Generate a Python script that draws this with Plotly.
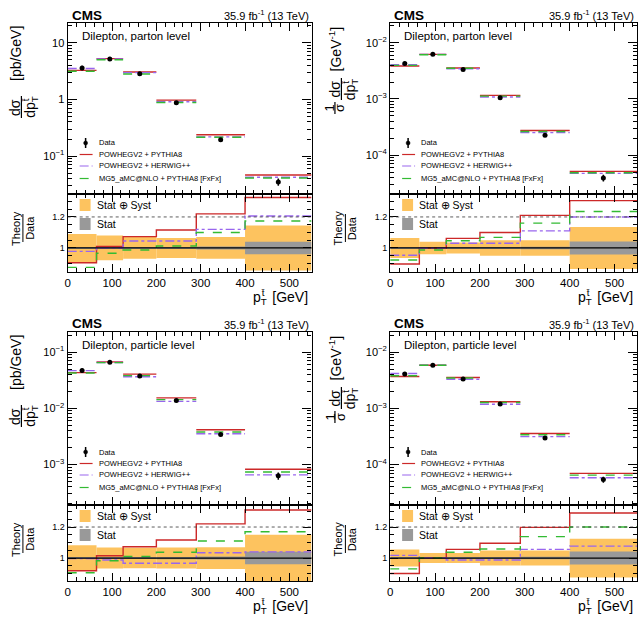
import plotly.graph_objects as go

W, H = 642, 617
FONT = "Liberation Sans, Arial, Helvetica, sans-serif"

# ---------------- data ----------------
bin_edges = [0, 65, 125, 200, 290, 400, 550]

# top-left: parton level, absolute [pb/GeV]
tl_data = [3.6, 5.2, 2.85, 0.87, 0.195, 0.035]
tl_p8 = [0.905, 1.01, 1.073, 1.116, 1.22, 1.325]
tl_hw = [0.978, 1.0, 1.045, 1.045, 1.12, 1.206]
tl_mg = [0.875, 0.966, 0.987, 1.013, 1.10, 1.174]
tl_tot = [0.09, 0.08, 0.07, 0.065, 0.07, 0.145]
tl_stat = [0.006, 0.005, 0.006, 0.007, 0.01, 0.04]

# top-right: parton level, normalised [1/GeV]
tr_data = [4.28e-3, 6.2e-3, 3.35e-3, 1.05e-3, 2.27e-4, 3.95e-5]
tr_p8 = [0.897, 1.0, 1.062, 1.10, 1.21, 1.305]
tr_hw = [0.953, 1.0, 1.03, 1.03, 1.11, 1.20]
tr_mg = [0.922, 0.987, 1.047, 1.068, 1.16, 1.235]
tr_tot = [0.065, 0.04, 0.035, 0.05, 0.05, 0.135]
tr_stat = [0.005, 0.004, 0.004, 0.005, 0.008, 0.042]

# bottom-left: particle level, absolute [pb/GeV]
bl_data = [0.0472, 0.0664, 0.0379, 0.0138, 3.42e-3, 6.3e-4]
bl_p8 = [0.918, 1.015, 1.073, 1.116, 1.22, 1.31]
bl_hw = [0.996, 0.987, 0.966, 0.966, 1.034, 1.04]
bl_mg = [0.905, 0.983, 1.01, 1.037, 1.11, 1.17]
bl_tot = [0.083, 0.068, 0.066, 0.068, 0.07, 0.15]
bl_stat = [0.006, 0.005, 0.006, 0.007, 0.01, 0.04]

# bottom-right: particle level, normalised [1/GeV]
br_data = [4.11e-3, 5.87e-3, 3.35e-3, 1.2e-3, 2.98e-4, 5.4e-5]
br_p8 = [0.90, 1.0, 1.056, 1.095, 1.198, 1.29]
br_hw = [1.017, 1.0, 0.987, 0.987, 1.056, 1.077]
br_mg = [0.93, 1.0, 1.037, 1.058, 1.138, 1.20]
br_tot = [0.055, 0.032, 0.032, 0.048, 0.048, 0.125]
br_stat = [0.005, 0.004, 0.004, 0.005, 0.008, 0.042]

tl_ytickvals = [0.1, 1, 10]
tl_yticktext = ["10<sup>\u22121</sup>", "1", "10"]
tr_ytickvals = [1e-4, 1e-3, 1e-2]
tr_yticktext = ["10<sup>\u22124</sup>", "10<sup>\u22123</sup>", "10<sup>\u22122</sup>"]
bl_ytickvals = [1e-3, 1e-2, 1e-1]
bl_yticktext = ["10<sup>\u22123</sup>", "10<sup>\u22122</sup>", "10<sup>\u22121</sup>"]
br_ytickvals = tr_ytickvals
br_yticktext = tr_yticktext

x_ticks = [0, 100, 200, 300, 400, 500]
ratio_ticks = [1, 1.2]
ratio_ticktext = ["1", "1.2"]

model_names = ["POWHEGV2 + PYTHIA8", "POWHEGV2 + HERWIG++", "MG5_aMC@NLO + PYTHIA8 [FxFx]"]
model_colors = ["#cc2929", "#9966ee", "#33bb33"]
model_dash = ["solid", "dashdot", "dash"]
band_tot_color = "#fdc35f"
band_stat_color = "#999999"

PT_TBAR = "p<sub><span style=\"letter-spacing:-5px\">T</span></sub><sup>t\u0304</sup>"

# ---------------- layout geometry (pixels) ----------------
cols = {0: (65, 310), 1: (389, 637)}
rows = {0: dict(main=(23, 194), ratio=(194, 272)), 1: dict(main=(332, 505), ratio=(505, 581))}


def px(x):
    return x / W


def py(y):
    return 1 - y / H


panels = [
    dict(data=tl_data, models=[tl_p8, tl_hw, tl_mg], tot=tl_tot, stat=tl_stat, col=0, row=0,
         label="Dilepton, parton level", norm=False, yrange=[-1.67, 1.35], tv=tl_ytickvals, tt=tl_yticktext,
         rrange=[0.845, 1.348]),
    dict(data=tr_data, models=[tr_p8, tr_hw, tr_mg], tot=tr_tot, stat=tr_stat, col=1, row=0,
         label="Dilepton, parton level", norm=True, yrange=[-4.69, -1.65], tv=tr_ytickvals, tt=tr_yticktext,
         rrange=[0.845, 1.348]),
    dict(data=bl_data, models=[bl_p8, bl_hw, bl_mg], tot=bl_tot, stat=bl_stat, col=0, row=1,
         label="Dilepton, particle level", norm=False, yrange=[-3.72, -0.64], tv=bl_ytickvals, tt=bl_yticktext,
         rrange=[0.852, 1.342]),
    dict(data=br_data, models=[br_p8, br_hw, br_mg], tot=br_tot, stat=br_stat, col=1, row=1,
         label="Dilepton, particle level", norm=True, yrange=[-4.72, -1.64], tv=br_ytickvals, tt=br_yticktext,
         rrange=[0.852, 1.342]),
]

centers = [(a + b) / 2 for a, b in zip(bin_edges[:-1], bin_edges[1:])]
widths = [b - a for a, b in zip(bin_edges[:-1], bin_edges[1:])]

fig = go.Figure()
annotations = []
shapes = []
layout = {}


def minor_log(lo, hi):
    vals = []
    for e in range(int(lo) - 1, int(hi) + 2):
        for m in range(2, 10):
            vals.append(m * 10 ** e)
    return vals


def ann(text, x, y, size, xanchor="center", yanchor="middle", angle=0, bold=False, color="black"):
    if bold:
        text = "<b>" + text + "</b>"
    annotations.append(dict(text=text, x=px(x), y=py(y), xref="paper", yref="paper", showarrow=False,
                            xanchor=xanchor, yanchor=yanchor, textangle=angle,
                            font=dict(family=FONT, size=size, color=color)))


def pline(x0, y0, x1, y1, color="black", width=1, dash="solid"):
    shapes.append(dict(type="line", xref="paper", yref="paper", x0=px(x0), y0=py(y0), x1=px(x1), y1=py(y1),
                       line=dict(color=color, width=width, dash=dash)))


axis_common = dict(showline=True, linecolor="black", linewidth=1.4, mirror="allticks", ticks="inside",
                   tickcolor="black", tickwidth=1, showgrid=False, zeroline=False)

for k, p in enumerate(panels):
    x0, x1 = cols[p["col"]]
    ym0, ym1 = rows[p["row"]]["main"]
    yr0, yr1 = rows[p["row"]]["ratio"]
    im, ir = 2 * k + 1, 2 * k + 2
    xm = "x" if im == 1 else f"x{im}"
    ym = "y" if im == 1 else f"y{im}"
    xr, yr = f"x{ir}", f"y{ir}"
    xmn = "xaxis" if im == 1 else f"xaxis{im}"
    ymn = "yaxis" if im == 1 else f"yaxis{im}"

    layout[xmn] = dict(axis_common, domain=[px(x0), px(x1)], anchor=ym, range=[0, 550], tickvals=x_ticks,
                       showticklabels=False, ticklen=8,
                       minor=dict(dtick=20, tick0=0, ticks="inside", ticklen=4, tickcolor="black", showgrid=False))
    layout[ymn] = dict(axis_common, domain=[py(ym1), py(ym0)], anchor=xm, type="log", range=p["yrange"],
                       tickvals=p["tv"], ticktext=p["tt"], ticklen=9,
                       tickfont=dict(family=FONT, size=11, color="black"),
                       minor=dict(tickmode="array", tickvals=minor_log(p["yrange"][0], p["yrange"][1]),
                                  ticks="inside", ticklen=4, tickcolor="black", showgrid=False))
    layout[f"xaxis{ir}"] = dict(axis_common, domain=[px(x0), px(x1)], anchor=yr, range=[0, 550], tickvals=x_ticks,
                                ticklen=8, tickfont=dict(family=FONT, size=11.5, color="black"),
                                minor=dict(dtick=20, tick0=0, ticks="inside", ticklen=4, tickcolor="black",
                                           showgrid=False))
    layout[f"yaxis{ir}"] = dict(axis_common, domain=[py(yr1), py(yr0)], anchor=xr, range=p["rrange"],
                                tickvals=ratio_ticks, ticktext=ratio_ticktext, ticklen=8,
                                tickfont=dict(family=FONT, size=9, color="black"),
                                minor=dict(dtick=0.05, tick0=0, ticks="inside", ticklen=4, tickcolor="black",
                                           showgrid=False))

    # ---- ratio bands
    fig.add_trace(go.Bar(x=centers, y=[2 * t for t in p["tot"]], base=[1 - t for t in p["tot"]], width=widths,
                         marker=dict(color=band_tot_color, line=dict(width=0)), xaxis=xr, yaxis=yr,
                         showlegend=False, hoverinfo="skip"))
    fig.add_trace(go.Bar(x=centers, y=[2 * s for s in p["stat"]], base=[1 - s for s in p["stat"]], width=widths,
                         marker=dict(color=band_stat_color, line=dict(width=0)), xaxis=xr, yaxis=yr,
                         showlegend=False, hoverinfo="skip"))
    dref = f"{xr} domain"
    shapes.append(dict(type="line", xref=dref, yref=yr, x0=0, x1=1, y0=1, y1=1,
                       line=dict(color="black", width=1.2)))
    shapes.append(dict(type="line", xref=dref, yref=yr, x0=0, x1=1, y0=1.2, y1=1.2,
                       line=dict(color="#333333", width=0.8, dash="dot")))

    # ---- theory curves
    for mi, ratio in enumerate(p["models"]):
        sx, sy = [], []
        for i in range(len(centers)):
            v = p["data"][i] * ratio[i]
            sx += [bin_edges[i], bin_edges[i + 1], None]
            sy += [v, v, None]
        fig.add_trace(go.Scatter(x=sx, y=sy, mode="lines", xaxis=xm, yaxis=ym, showlegend=False,
                                 line=dict(color=model_colors[mi], width=1.4, dash=model_dash[mi])))
        fig.add_trace(go.Scatter(x=bin_edges, y=list(ratio) + [ratio[-1]], mode="lines", line_shape="hv",
                                 xaxis=xr, yaxis=yr, showlegend=False,
                                 line=dict(color=model_colors[mi], width=1.4, dash=model_dash[mi])))

    # ---- data
    fig.add_trace(go.Scatter(x=centers, y=p["data"], mode="markers", xaxis=xm, yaxis=ym, showlegend=False,
                             marker=dict(color="black", size=5),
                             error_y=dict(type="data", array=[d * t for d, t in zip(p["data"], p["tot"])],
                                          color="black", thickness=1.5, width=0)))

    # ---- texts above the frame
    ann("CMS", x0 + 2, ym0 - 8, 13.5, xanchor="left", bold=True)
    ann("35.9 fb<sup>-1</sup> (13 TeV)", x1 - 1, ym0 - 8, 11, xanchor="right")
    ann(p["label"], x0 + 12, ym0 + 13, 11.5, xanchor="left")

    # ---- main legend
    lx = x0 + 12
    ly = ym0 + 120
    shapes.append(dict(type="line", xref="paper", yref="paper", x0=px(lx + 6), x1=px(lx + 6), y0=py(ly - 5),
                       y1=py(ly + 5), line=dict(color="black", width=1.5)))
    shapes.append(dict(type="circle", xref="paper", yref="paper", x0=px(lx + 4), x1=px(lx + 8), y0=py(ly - 2),
                       y1=py(ly + 2), fillcolor="black", line=dict(color="black", width=0.5)))
    ann("Data", lx + 17, ly, 7.5, xanchor="left")
    for mi, dy in enumerate([11.5, 23, 35.5]):
        pline(lx, ly + dy, lx + 13, ly + dy, color=model_colors[mi], width=1.2, dash=model_dash[mi])
        ann(model_names[mi], lx + 17, ly + dy, 7.5, xanchor="left")

    # ---- ratio legend
    rx = x0 + 12
    shapes.append(dict(type="rect", xref="paper", yref="paper", x0=px(rx), x1=px(rx + 11), y0=py(yr0 + 17),
                       y1=py(yr0 + 5), fillcolor=band_tot_color, line=dict(width=0)))
    shapes.append(dict(type="rect", xref="paper", yref="paper", x0=px(rx), x1=px(rx + 11), y0=py(yr0 + 36),
                       y1=py(yr0 + 24), fillcolor=band_stat_color, line=dict(width=0)))
    ann("Stat \u2295 Syst", rx + 15, yr0 + 11, 10.5, xanchor="left")
    ann("Stat", rx + 15, yr0 + 30, 10.5, xanchor="left")

    # ---- x-axis title
    ann(PT_TBAR + "\u00a0\u00a0[GeV]", x1 - 2, yr1 + 25, 14, xanchor="right")

    # ---- y-axis titles
    if not p["norm"]:
        ann("[pb/GeV]", x0 - 52, ym0 + 30, 14, angle=-90)
        ann("d\u03c3", x0 - 53, ym0 + 84, 14, angle=-90)
        pline(x0 - 46.5, ym0 + 73, x0 - 46.5, ym0 + 95, width=1.2)
        ann(PT_TBAR.replace("p<sub>", "dp<sub>"), x0 - 38, ym0 + 84, 14, angle=-90)
    else:
        ann("[GeV<sup>-1</sup>]", x0 - 55, ym0 + 26, 14, angle=-90)
        ann("1", x0 - 60, ym0 + 85, 13, angle=-90)
        pline(x0 - 55.5, ym0 + 79, x0 - 55.5, ym0 + 91, width=1.2)
        ann("\u03c3", x0 - 50.5, ym0 + 85, 13, angle=-90)
        ann("d\u03c3", x0 - 55, ym0 + 66, 14, angle=-90)
        pline(x0 - 49, ym0 + 55, x0 - 49, ym0 + 77, width=1.2)
        ann(PT_TBAR.replace("p<sub>", "dp<sub>"), x0 - 40, ym0 + 66, 14, angle=-90)
    # ratio title
    ann("Theory", x0 - 52, yr0 + 34, 11, angle=-90)
    pline(x0 - 45, yr0 + 20, x0 - 45, yr0 + 48, width=1)
    ann("Data", x0 - 38, yr0 + 34, 11, angle=-90)

fig.update_layout(**layout)
fig.update_layout(width=W, height=H, margin=dict(l=0, r=0, t=0, b=0), autosize=False,
                  paper_bgcolor="white", plot_bgcolor="white", showlegend=False, barmode="overlay",
                  font=dict(family=FONT, color="black"), annotations=annotations, shapes=shapes)

fig.write_html("out.html")
